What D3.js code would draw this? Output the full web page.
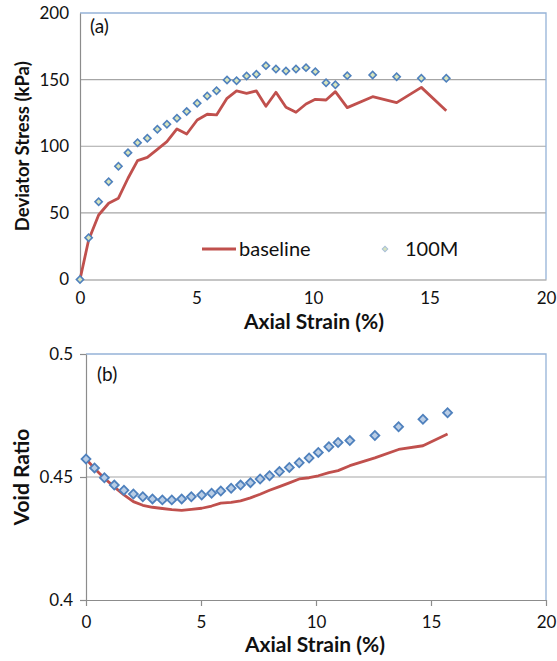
<!DOCTYPE html>
<html><head><meta charset="utf-8">
<script src="https://cdn.jsdelivr.net/npm/d3@7"></script>
<style>
html,body{margin:0;padding:0;background:#fff;}
svg{display:block;font-family:Lato, "Open Sans", sans-serif;}
</style></head>
<body><svg id="c" width="557" height="661"></svg>
<script>
// Shared axial strain values (%)
const strain = [0,0.37,0.80,1.23,1.65,2.06,2.47,2.89,3.32,3.73,4.16,4.58,5.03,5.46,5.86,6.31,6.72,7.15,7.57,7.98,8.41,8.84,9.27,9.70,10.10,10.56,10.96,11.47,12.56,13.59,14.65,15.72];
// (a) Deviator stress (kPa)
const stressBaseline = [0,29.6,48.4,57.2,61,76,89.2,91.7,97.7,103.4,113,109.2,119.7,124,123.5,136,141.5,139.7,141.5,130,140.5,129.2,125.5,131.7,135.2,134.7,141,129,137.2,132.7,144.2,126.7];
const stress100M = [0,31.4,58.4,73.4,85,95.2,102.7,106,112.7,116.5,121,126,132.2,137.7,141.7,149.7,149.2,152.7,154,160.5,158,156.5,158,159,156,147.7,146.2,153,153.5,152.2,151,151];
// (b) Void ratio
const voidBaseline = [0.4573,0.4535,0.4495,0.4460,0.4427,0.4400,0.4385,0.4377,0.4372,0.4367,0.4364,0.4368,0.4373,0.4382,0.4394,0.4397,0.4403,0.4415,0.4430,0.4446,0.4461,0.4476,0.4492,0.4497,0.4505,0.4518,0.4526,0.4546,0.4578,0.4612,0.4627,0.4675];
const void100M = [0.4573,0.4537,0.4497,0.4467,0.4446,0.4431,0.4420,0.4411,0.4407,0.4407,0.4411,0.4420,0.4427,0.4434,0.4443,0.4454,0.4467,0.4477,0.4492,0.4505,0.4522,0.4539,0.4558,0.4577,0.4600,0.4623,0.4640,0.4648,0.4669,0.4704,0.4735,0.4761];
const xTicks = [0,5,10,15,20];
const stressTicks = [0,50,100,150,200];
const voidTicks = [0.4,0.45,0.5];
const seriesNames = ["baseline","100M"];

const svg = d3.select("#c");
const RED = "#c0504d", BLUE = "#4f81bd", BORDER = "#95b3d7", GRID = "#a6a6a6", AX = "#8c8c8c";
const TICKFONT = 17, TITLEFONT = 21;

function panel(opt){
  const g = svg.append("g");
  const x = d3.scaleLinear().domain([0,20]).range([opt.left, opt.right]);
  const y = d3.scaleLinear().domain(opt.ydom).range([opt.bottom, opt.top]);
  // gridlines
  g.append("g").selectAll("line").data(opt.yticks.slice(1,-1)).join("line")
    .attr("x1",opt.left).attr("x2",opt.right).attr("y1",d=>y(d)).attr("y2",d=>y(d))
    .attr("stroke",GRID).attr("stroke-width",1.2);
  // plot border top/right
  g.append("path").attr("d",`M${opt.left},${opt.top}H${opt.right}V${opt.bottom}`)
    .attr("fill","none").attr("stroke",BORDER).attr("stroke-width",1.3);
  // axes
  const xa = g.append("g").attr("transform",`translate(0,${opt.bottom})`)
    .call(d3.axisBottom(x).tickValues(xTicks).tickSize(opt.tick).tickSizeOuter(0).tickPadding(opt.xpad).tickFormat(d3.format("d")));
  const ya = g.append("g").attr("transform",`translate(${opt.left},0)`)
    .call(d3.axisLeft(y).tickValues(opt.yticks).tickSize(opt.tick).tickSizeOuter(0).tickPadding(opt.ypad).tickFormat(opt.yfmt));
  [xa,ya].forEach(a=>{
    a.select(".domain").attr("stroke",AX).attr("stroke-width",1.2);
    a.selectAll(".tick line").attr("stroke",AX).attr("stroke-width",1.2);
    a.selectAll(".tick text").attr("fill","#111").style("font-size",TICKFONT+"px").style("font-family","Lato");
  });
  // titles
  g.append("text").attr("x",opt.xtitleX).attr("y",opt.xtitleY).attr("text-anchor","middle")
    .style("font-weight","bold").style("font-size",TITLEFONT+"px").attr("fill","#111").text("Axial Strain (%)");
  g.append("text").attr("transform",`translate(${opt.ytitleX},${(opt.top+opt.bottom)/2}) rotate(-90)`)
    .attr("text-anchor","middle").style("font-weight","bold").style("font-size",opt.ytitleSize+"px").attr("fill","#111").text(opt.ytitle);
  g.append("text").attr("x",opt.tagX).attr("y",opt.tagY).style("font-size","19px").attr("fill","#111").text(opt.tag);
  // baseline line
  g.append("path").datum(strain.map((s,i)=>[s,opt.base[i]]))
    .attr("d",d3.line().x(d=>x(d[0])).y(d=>y(d[1])))
    .attr("fill","none").attr("stroke",RED).attr("stroke-width",opt.lw).attr("stroke-linejoin","round");
  // 100M markers
  g.append("g").selectAll("path").data(strain.map((s,i)=>[s,opt.m[i]])).join("path")
    .attr("transform",d=>`translate(${x(d[0])},${y(d[1])}) rotate(45)`)
    .attr("d",d3.symbol().type(d3.symbolSquare).size(opt.msize)())
    .attr("fill",opt.mfill).attr("stroke",BLUE).attr("stroke-width",opt.msw);
  return {g,x,y};
}

const a = panel({left:80,right:546,top:13,bottom:279.5,ydom:[0,200],yticks:stressTicks,yfmt:d3.format("d"),
  tick:0,xpad:12.5,ypad:11,
  base:stressBaseline,m:stress100M,mfill:"#d7e4bd",msize:26,msw:1.6,lw:2.8,
  xtitleX:314,xtitleY:329,ytitleX:29,ytitleSize:18.5,ytitle:"Deviator Stress (kPa)",tag:"(a)",tagX:90,tagY:33});
// legend
const lg = a.g.append("g");
lg.append("line").attr("x1",202).attr("x2",236).attr("y1",249).attr("y2",249).attr("stroke",RED).attr("stroke-width",2.8);
lg.append("text").attr("x",239).attr("y",255.5).style("font-size","20px").attr("fill","#111").text(seriesNames[0]);
lg.append("path").attr("transform","translate(385,249) rotate(45)").attr("d",d3.symbol().type(d3.symbolSquare).size(16)())
  .attr("fill","#d7e4bd").attr("stroke","#a9bfd9").attr("stroke-width",1);
lg.append("text").attr("x",405).attr("y",255.5).style("font-size","20px").attr("fill","#111").text(seriesNames[1]);

panel({left:86,right:546,top:354,bottom:600,ydom:[0.4,0.5],yticks:voidTicks,yfmt:d=>d===0.45?"0.45":d3.format(".1f")(d),
  tick:6,xpad:9.7,ypad:7,
  base:voidBaseline,m:void100M,mfill:"#b9cde5",msize:40,msw:1.8,lw:2.8,
  xtitleX:315,xtitleY:651.5,ytitleX:29,ytitleSize:21,ytitle:"Void Ratio",tag:"(b)",tagX:97,tagY:381});
</script></body></html>
